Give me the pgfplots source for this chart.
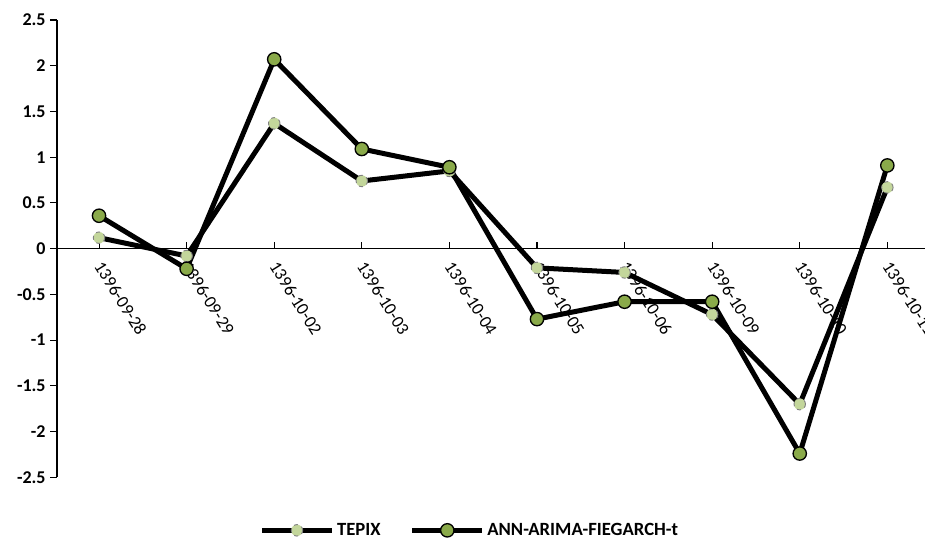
\documentclass[border=0pt]{standalone}
\usepackage{fontspec}
\setmainfont{Carlito}
\usepackage{pgfplots}
\pgfplotsset{compat=1.18}

\definecolor{tepix}{HTML}{C3D69B}
\definecolor{annc}{HTML}{8AAA4A}

\begin{document}
\begin{tikzpicture}
\begin{axis}[
    at={(0,0)}, anchor=south west,
    scale only axis,
    width=651pt, height=343pt,
    xmin=-0.48, xmax=9.43,
    ymin=-2.5, ymax=2.5,
    ytick={-2.5,-2,...,2.5},
    xtick={0,...,9},
    xticklabels={1396-09-28,1396-09-29,1396-10-02,1396-10-03,1396-10-04,1396-10-05,1396-10-06,1396-10-09,1396-10-10,1396-10-11},
    axis x line=middle, axis y line=left,
    axis line style={-, line width=0.8pt},
    x tick style={line width=0.8pt, black},
    y tick style={line width=0.8pt, black},
    xtick align=inside, ytick align=outside,
    major tick length=5pt,
    /pgf/number format/assume math mode=true,
    yticklabel style={font=\fontsize{13.5}{15}\selectfont\bfseries},
    xticklabel style={font=\fontsize{13.3}{15}\selectfont, rotate=-58, anchor=west, xshift=5.5pt, yshift=-6pt},
    clip=false,
    legend columns=2,
    legend style={at={(0.476,0)}, anchor=center, yshift=-39.75pt, draw=none,
        font=\fontsize{14}{16}\selectfont\bfseries,
        /tikz/every even column/.append style={column sep=20pt}},
    legend image code/.code={\draw[mark repeat=2,mark phase=2,#1] plot coordinates {(0cm,0cm)(0.92cm,0cm)(1.84cm,0cm)};},
]
\addplot[black, line width=3.75pt, mark=*, mark size=4.3pt,
    mark options={fill=tepix, draw=gray, line width=0.7pt, dashed}]
    coordinates {(0,0.12)(1,-0.08)(2,1.37)(3,0.74)(4,0.85)(5,-0.21)(6,-0.26)(7,-0.72)(8,-1.70)(9,0.67)};
\addlegendentry{TEPIX}
\addplot[black, line width=3.75pt, mark=*, mark size=5pt,
    mark options={fill=annc, draw=black, line width=1pt, solid}]
    coordinates {(0,0.36)(1,-0.22)(2,2.07)(3,1.09)(4,0.89)(5,-0.77)(6,-0.58)(7,-0.58)(8,-2.24)(9,0.91)};
\addlegendentry{ANN-ARIMA-FIEGARCH-t}
\end{axis}
\pgfresetboundingbox
\useasboundingbox (-42.75pt,-46.5pt) rectangle (651pt,358pt);
\end{tikzpicture}
\end{document}
